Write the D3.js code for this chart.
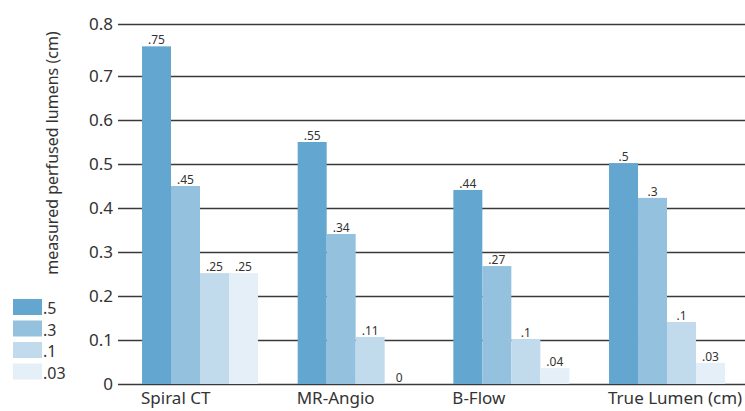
<!DOCTYPE html>
<html><head><meta charset="utf-8">
<script src="https://cdn.jsdelivr.net/npm/d3@7"></script>
<style>
body{margin:0;background:#fff;}
text{font-family:"Noto Sans",sans-serif;fill:#333;}
</style></head>
<body><svg id="c" width="745" height="411"></svg>
<script>
const categories = ["Spiral CT", "MR-Angio", "B-Flow", "True Lumen (cm)"];
const seriesNames = [".5", ".3", ".1", ".03"];
const seriesColors = ["#63a6cf", "#93c1de", "#c1dbec", "#e4eff7"];
// bar heights as drawn
const s05 = [0.757, 0.55, 0.441, 0.502];
const s03 = [0.45, 0.341, 0.268, 0.423];
const s01 = [0.252, 0.107, 0.102, 0.141];
const s003 = [0.252, 0, 0.036, 0.048];
// printed value labels
const l05 = [".75", ".55", ".44", ".5"];
const l03 = [".45", ".34", ".27", ".3"];
const l01 = [".25", ".11", ".1", ".1"];
const l003 = [".25", "0", ".04", ".03"];
const yTicks = [0, 0.1, 0.2, 0.3, 0.4, 0.5, 0.6, 0.7, 0.8];
const yTickLabels = ["0", "0.1", "0.2", "0.3", "0.4", "0.5", "0.6", "0.7", "0.8"];

const values = [s05, s03, s01, s003];
const labels = [l05, l03, l01, l003];

const svg = d3.select("#c");
const y = d3.scaleLinear().domain([0, 0.7, 0.8]).range([384, 76, 24]);
const x0 = d3.scaleBand().domain(categories).range([121, 746]).paddingInner(0.255).paddingOuter(0.135);
const x1 = d3.scaleBand().domain(seriesNames).range([0, x0.bandwidth()]);

// grid + tick labels
const yAxis = d3.axisLeft(y).tickValues(yTicks).tickFormat((d,i)=>yTickLabels[i]).tickSize(-(745-118)).tickPadding(5);
const ga = svg.append("g").attr("transform","translate(118,0)").call(yAxis);
ga.select(".domain").remove();
ga.selectAll(".tick line").attr("stroke","#3a3a3a").attr("stroke-width",1.3);
ga.selectAll(".tick text").style("font-size","17px").attr("fill","#333").style("font-family","'Noto Sans',sans-serif");

// bars
const groups = svg.append("g").selectAll("g").data(categories).join("g")
  .attr("transform", d => `translate(${x0(d)},0)`);
groups.each(function(cat, ci){
  const g = d3.select(this);
  seriesNames.forEach((s, si) => {
    const v = values[si][ci];
    g.append("rect").attr("x", x1(s)).attr("width", x1.bandwidth())
      .attr("y", y(v)).attr("height", y(0) - y(v)).attr("fill", seriesColors[si]);
    g.append("text").attr("x", x1(s) + x1.bandwidth()/2).attr("y", y(v) - 2)
      .attr("text-anchor","middle").style("font-size","12px").text(labels[si][ci]);
  });
});

// category labels
svg.append("g").selectAll("text").data(categories).join("text")
  .attr("x", d => x0(d) - 1).attr("y", 404).style("font-size","17px").text(d => d);

// y title
svg.append("text").attr("transform","translate(58,153) rotate(-90)").attr("text-anchor","middle")
  .style("font-size","16px").text("measured perfused lumens (cm)");

// legend
const lg = svg.append("g").selectAll("g").data(seriesNames).join("g")
  .attr("transform", (d,i) => `translate(13,${299 + i*21.5})`);
lg.append("rect").attr("width",29).attr("height",16).attr("fill",(d,i)=>seriesColors[i]);
lg.append("text").attr("x",30).attr("y",15).style("font-size","16px").text(d=>d);
</script></body></html>
